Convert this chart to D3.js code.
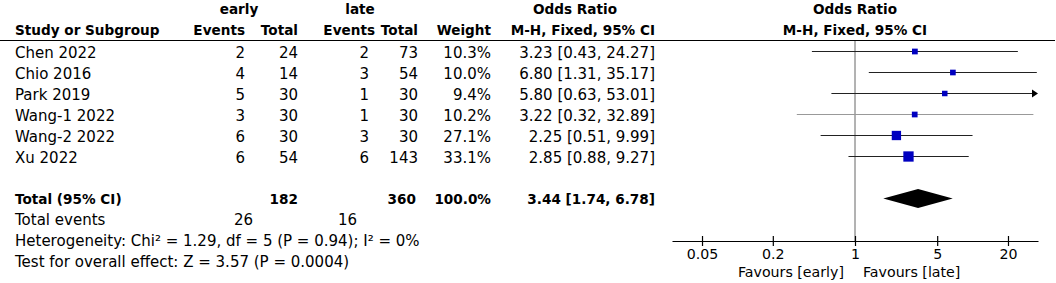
<!DOCTYPE html>
<html>
<head>
<meta charset="utf-8">
<script src="https://cdn.jsdelivr.net/npm/d3@7"></script>
<style>
  body { margin: 0; background: #fff; }
  svg text { font-family: "DejaVu Sans", sans-serif; font-size: 15px; fill: #000; }
  svg text.b { font-weight: bold; font-size: 13.6px; }
  svg text.ax { font-size: 14.2px; }
</style>
</head>
<body>
<script>
// study rows
var studies = ["Chen 2022", "Chio 2016", "Park 2019", "Wang-1 2022", "Wang-2 2022", "Xu 2022"];
var earlyEvents = [2, 4, 5, 3, 6, 6];
var earlyTotal = [24, 14, 30, 30, 30, 54];
var lateEvents = [2, 3, 1, 1, 3, 6];
var lateTotal = [73, 54, 30, 30, 30, 143];
var weights = [10.3, 10.0, 9.4, 10.2, 27.1, 33.1];
var orEst = [3.23, 6.80, 5.80, 3.22, 2.25, 2.85];
var orLow = [0.43, 1.31, 0.63, 0.32, 0.51, 0.88];
var orHigh = [24.27, 35.17, 53.01, 32.89, 9.99, 9.27];

// pooled
var totalN = [182, 360];
var totalEvents = [26, 16];
var totalOR = [3.44, 1.74, 6.78]; // est, low, high
var totalWeight = "100.0%";
var heteroText = "Heterogeneity: Chi² = 1.29, df = 5 (P = 0.94); I² = 0%";
var effectText = "Test for overall effect: Z = 3.57 (P = 0.0004)";

var tickVals = [0.05, 0.2, 1, 5, 20];
var faintRows = ["Wang-1 2022"];

var svgWidth = 1056, svgHeight = 283;
var svg = d3.select('body').append('svg').attr('width', svgWidth).attr('height', svgHeight);

var x = d3.scaleLog().domain([1 / 36, 36]).range([672, 1038]);
var rowY = d3.scaleLinear().domain([0, 1]).range([51.5, 72.5]);
var boxSize = d3.scaleSqrt().domain([0, 33.1]).range([0, 10.3]);
var axisY = 241;

var fmt2 = d3.format(".2f");
var orText = (e, l, h) => fmt2(e) + " [" + fmt2(l) + ", " + fmt2(h) + "]";

function txt(x0, y0, s, anchor, cls) {
    return svg.append("text").attr("x", x0).attr("y", y0)
        .attr("dominant-baseline", "central")
        .attr("text-anchor", anchor || "start")
        .attr("class", cls || null)
        .text(s);
}

// headers
txt(239, 9, "early", "middle", "b");
txt(360, 9, "late", "middle", "b");
txt(575, 9, "Odds Ratio", "middle", "b");
txt(x(1), 9, "Odds Ratio", "middle", "b");
txt(15, 30, "Study or Subgroup", "start", "b");
txt(245, 30, "Events", "end", "b");
txt(298, 30, "Total", "end", "b");
txt(375, 30, "Events", "end", "b");
txt(418, 30, "Total", "end", "b");
txt(491, 30, "Weight", "end", "b");
txt(655, 30, "M-H, Fixed, 95% CI", "end", "b");
txt(x(1), 30, "M-H, Fixed, 95% CI", "middle", "b");

svg.append("line").attr("x1", 0).attr("x2", 1055).attr("y1", 40.5).attr("y2", 40.5)
    .attr("stroke", "#000").attr("stroke-width", 1.2);

// table rows
studies.forEach((s, i) => {
    var y = rowY(i) + 1.5;
    txt(15, y, s);
    txt(245, y, earlyEvents[i], "end");
    txt(298, y, earlyTotal[i], "end");
    txt(369, y, lateEvents[i], "end");
    txt(418, y, lateTotal[i], "end");
    txt(491, y, weights[i].toFixed(1) + "%", "end");
    txt(655, y, orText(orEst[i], orLow[i], orHigh[i]), "end");
});

// totals
txt(15, rowY(7), "Total (95% CI)", "start", "b");
txt(298, rowY(7), totalN[0], "end", "b");
txt(416, rowY(7), totalN[1], "end", "b");
txt(491, rowY(7), totalWeight, "end", "b");
txt(655, rowY(7), orText(totalOR[0], totalOR[1], totalOR[2]), "end", "b");
txt(15, rowY(8), "Total events");
txt(253, rowY(8), totalEvents[0], "end");
txt(357, rowY(8), totalEvents[1], "end");
txt(15, rowY(9), heteroText);
txt(15, rowY(10), effectText);

// null line
svg.append("line").attr("x1", x(1)).attr("x2", x(1)).attr("y1", 41).attr("y2", axisY)
    .attr("stroke", "#666").attr("stroke-width", 1);

// CI lines
var xMax = x.domain()[1];
svg.selectAll("line.ci").data(studies).enter().append("line")
    .attr("class", "ci")
    .attr("x1", (d, i) => x(Math.max(orLow[i], x.domain()[0])))
    .attr("x2", (d, i) => x(Math.min(orHigh[i], xMax)) - (orHigh[i] > xMax ? 3 : 0))
    .attr("y1", (d, i) => rowY(i)).attr("y2", (d, i) => rowY(i))
    .attr("stroke", d => faintRows.includes(d) ? "#999" : "#222")
    .attr("stroke-width", 1.2);

// arrows for clipped CIs
svg.selectAll("path.arrow").data(studies.filter((d, i) => orHigh[i] > xMax)).enter().append("path")
    .attr("class", "arrow")
    .attr("d", d => {
        var i = studies.indexOf(d), xe = x(xMax), y = rowY(i);
        return "M" + xe + "," + y + "L" + (xe - 6) + "," + (y - 4) + "L" + (xe - 6) + "," + (y + 4) + "Z";
    })
    .attr("fill", "#000");

// weight boxes
svg.selectAll("rect.box").data(studies).enter().append("rect")
    .attr("class", "box")
    .attr("x", (d, i) => x(orEst[i]) - boxSize(weights[i]) / 2)
    .attr("y", (d, i) => rowY(i) - boxSize(weights[i]) / 2)
    .attr("width", (d, i) => boxSize(weights[i]))
    .attr("height", (d, i) => boxSize(weights[i]))
    .attr("fill", "#0000c0");

// pooled diamond
var dy = rowY(7);
svg.append("path")
    .attr("d", "M" + x(totalOR[1]) + "," + dy + "L" + x(totalOR[0]) + "," + (dy - 9.5) +
        "L" + x(totalOR[2]) + "," + dy + "L" + x(totalOR[0]) + "," + (dy + 9.5) + "Z")
    .attr("fill", "#000");

// axis
var xAxis = d3.axisBottom(x).tickValues(tickVals).tickFormat(d => d).tickSizeInner(5).tickSizeOuter(0);
var ag = svg.append("g").attr("transform", "translate(0," + axisY + ")").call(xAxis);
ag.select(".domain").attr("stroke", "#000").attr("stroke-width", 1.2);
ag.selectAll(".tick line").attr("y1", -5).attr("stroke", "#000").attr("stroke-width", 1.2);
ag.selectAll(".tick text").attr("y", 12.5).attr("dy", null).attr("dominant-baseline", "central")
    .attr("class", "ax").attr("fill", "#000");

txt(x(1) - 11, 272, "Favours [early]", "end", "ax");
txt(x(1) + 8, 272, "Favours [late]", "start", "ax");
</script>
</body>
</html>
